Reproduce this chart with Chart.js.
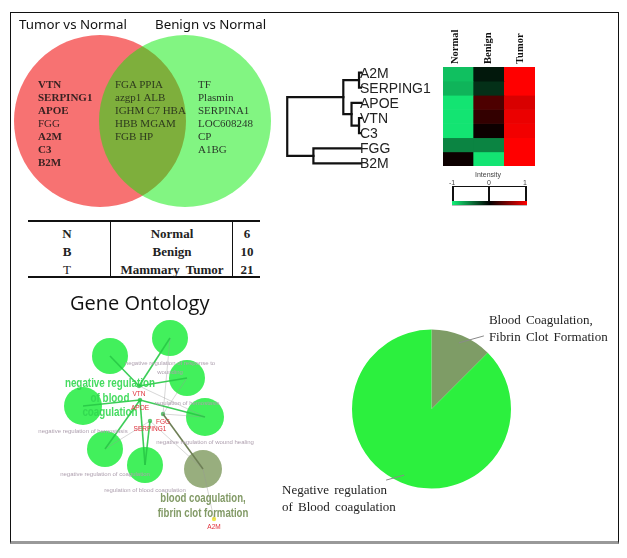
<!DOCTYPE html>
<html>
<head>
<meta charset="utf-8">
<title>Serum proteins - overview</title>
<script src="https://cdn.jsdelivr.net/npm/chart.js@4.4.1/dist/chart.umd.min.js"></script>
<style>
  body { margin: 0; background: #fff; }
  #page { position: relative; width: 627px; height: 558px; overflow: hidden;
          font-family: "Liberation Serif", "Times New Roman", serif; color: #222; }
  #page canvas { position: absolute; }
  .t { position: absolute; white-space: nowrap; line-height: 1; }
  .ln { position: absolute; background: #111; }
  #frame { position: absolute; left: 10px; top: 12px; width: 607px; height: 528px;
           border: 1px solid #111; border-bottom: 3px solid #999; }
</style>
</head>
<body>
<div id="page">
  <div id="frame"></div>
  <canvas id="vennChart" width="300" height="215" style="left:0;top:0"></canvas>
  <canvas id="treeChart" width="80" height="106" style="left:282px;top:65px"></canvas>
  <canvas id="heatChart" width="92" height="99" style="left:443px;top:67px"></canvas>
  <canvas id="goChart" width="260" height="225" style="left:20px;top:310px"></canvas>
  <canvas id="pieChart" width="340" height="235" style="left:270px;top:290px"></canvas>
</div>
<script>
// Venn: genes changed in each comparison
const tumorOnly = ['VTN', 'SERPING1', 'APOE', 'FGG', 'A2M', 'C3', 'B2M'];
const sharedGenes = ['FGA PPIA', 'azgp1 ALB', 'IGHM C7 HBA', 'HBB MGAM', 'FGB HP'];
const benignOnly = ['TF', 'Plasmin', 'SERPINA1', 'LOC608248', 'CP', 'A1BG'];

// sample groups
const groupCodes = ['N', 'B', 'T'];
const groupNames = ['Normal', 'Benign', 'Mammary Tumor'];
const groupCounts = [6, 10, 21];

// heatmap (intensity -1..1), rows in dendrogram order
const heatGenes = ['A2M', 'SERPING1', 'APOE', 'VTN', 'C3', 'FGG', 'B2M'];
const heatGroups = ['Normal', 'Benign', 'Tumor'];
const heatNormal = [-0.8, -0.75, -0.95, -0.95, -0.95, -0.55, 0.05];
const heatBenign = [-0.1, -0.2, 0.3, 0.2, 0.05, -0.55, -0.95];
const heatTumor = [1, 1, 0.85, 0.92, 0.95, 1, 1];

// dendrogram merges (leaf ids 0-6, merge k gets id 7+k), height 0..1
const mergeA = [0, 3, 2, 7, 5, 10];
const mergeB = [1, 4, 8, 9, 6, 11];
const mergeH = [0.04, 0.04, 0.14, 0.25, 0.65, 1.0];

// gene ontology network
const goTerms = [
  ['negative regulation', 'of blood', 'coagulation'],
  ['negative regulation of response to', 'wounding'],
  ['regulation of hemostasis'],
  ['negative regulation of hemostasis'],
  ['negative regulation of wound healing'],
  ['negative regulation of coagulation'],
  ['regulation of blood coagulation'],
  ['blood coagulation,', 'fibrin clot formation']
];
const goTermGroup = [0, 0, 0, 0, 0, 0, 0, 1];
const goTermX = [110, 170, 187, 83, 205, 105, 145, 203];
const goTermY = [356, 338, 378, 406, 417, 449, 465, 469];
const goTermR = [18, 18, 18, 19, 19, 18, 18, 19];
const goGenes = ['VTN', 'APOE', 'SERPING1', 'FGG', 'A2M'];
const goGeneX = [139, 140, 150, 163, 214];
const goGeneY = [386, 400, 421, 414, 519];
const edgeGene = [0, 0, 0, 1, 1, 1, 1, 2, 3, 2, 4, 3, 3, 2, 0, 3];
const edgeTerm = [0, 1, 2, 3, 4, 5, 6, 6, 7, 7, 7, 2, 4, 5, 4, 1];
const edgeKind = [0, 0, 0, 0, 0, 0, 0, 0, 1, 2, 2, 2, 2, 2, 2, 2];

// pie: GO groups
const pieNames = [['Blood Coagulation,', 'Fibrin Clot Formation'], ['Negative regulation', 'of Blood coagulation']];
const pieValues = [1, 7];

Chart.defaults.animation = false;
Chart.defaults.events = [];
Chart.defaults.plugins.legend.display = false;
Chart.defaults.plugins.tooltip.enabled = false;

const page = document.getElementById('page');

function text(str, x, y, css, align) {
  const el = document.createElement('div');
  el.className = 't';
  el.textContent = str;
  el.style.cssText += css;
  el.style.left = x + 'px';
  el.style.top = y + 'px';
  const tx = align === 'center' ? '-50%' : (align === 'right' ? '-100%' : '0');
  el.style.transform = 'translate(' + tx + ',-50%)';
  page.appendChild(el);
  return el;
}

function line(x, y, w, h, color) {
  const el = document.createElement('div');
  el.className = 'ln';
  el.style.left = x + 'px';
  el.style.top = y + 'px';
  el.style.width = w + 'px';
  el.style.height = h + 'px';
  if (color) el.style.background = color;
  page.appendChild(el);
}

// ---- Venn
new Chart(document.getElementById('vennChart'), {
  type: 'bubble',
  data: {
    datasets: [
      { data: [{ x: 185, y: 121, r: 86 }], backgroundColor: 'rgba(5,235,5,0.5)', borderWidth: 0 },
      { data: [{ x: 100, y: 121, r: 86 }], backgroundColor: '#f77272', borderWidth: 0 }
    ]
  },
  options: {
    responsive: false,
    layout: { padding: 0, autoPadding: false },
    clip: false,
    scales: {
      x: { display: false, min: 0, max: 300 },
      y: { display: false, min: 0, max: 215, reverse: true }
    }
  }
});

const sansTitle = 'font-family:"Noto Sans","Open Sans",sans-serif;font-size:13.3px;color:#111;';
text('Tumor vs Normal', 19, 25, sansTitle);
text('Benign vs Normal', 155, 25, sansTitle);
tumorOnly.forEach((g, i) => {
  const w = g === 'FGG' ? 'normal' : 'bold';
  text(g, 38, 84 + i * 13, 'font-size:11px;font-weight:' + w + ';color:#3a2222;');
});
sharedGenes.forEach((g, i) => text(g, 115, 84 + i * 13, 'font-size:11px;color:#2e3a1e;'));
benignOnly.forEach((g, i) => text(g, 198, 84 + i * 13, 'font-size:11px;color:#2a3a2a;'));

// ---- table
line(28, 220, 232, 1.5);
line(28, 276, 232, 1.5);
line(110, 220, 1, 57);
line(232, 220, 1, 57);
groupCodes.forEach((c, i) => {
  const y = 233 + i * 18;
  text(c, 67, y, 'font-size:13px;font-weight:' + (i < 2 ? 'bold' : 'normal') + ';', 'center');
  text(groupNames[i], 172, y, 'font-size:13px;font-weight:bold;word-spacing:3px;', 'center');
  text(String(groupCounts[i]), 247, y, 'font-size:13px;font-weight:bold;', 'center');
});

// ---- dendrogram
const nodeY = heatGenes.map((g, i) => i);
const nodeH = heatGenes.map(() => 0);
const treeSets = [];
mergeA.forEach((a, k) => {
  const b = mergeB[k];
  const h = mergeH[k];
  treeSets.push({
    data: [{ x: nodeH[a], y: nodeY[a] }, { x: h, y: nodeY[a] }, { x: h, y: nodeY[b] }, { x: nodeH[b], y: nodeY[b] }],
    showLine: true, borderColor: '#111', borderWidth: 2.2, pointRadius: 0, borderCapStyle: 'square'
  });
  nodeY.push((nodeY[a] + nodeY[b]) / 2);
  nodeH.push(h);
});
new Chart(document.getElementById('treeChart'), {
  type: 'scatter',
  data: { datasets: treeSets },
  options: {
    responsive: false,
    layout: { padding: 0, autoPadding: false },
    clip: false,
    scales: {
      x: { display: false, min: 0, max: 1.07, reverse: true },
      y: { display: false, min: -0.5, max: 6.5, reverse: true }
    }
  }
});
heatGenes.forEach((g, i) => {
  text(g, 360, 73 + i * 15, 'font-family:"Liberation Sans",Arial,sans-serif;font-size:14px;color:#222;');
});

// ---- heatmap
function heatColor(v) {
  if (v < 0) {
    const a = -v;
    return 'rgb(' + Math.round(20 * a) + ',' + Math.round(240 * a) + ',' + Math.round(120 * a) + ')';
  }
  return 'rgb(' + Math.round(255 * v) + ',0,0)';
}
new Chart(document.getElementById('heatChart'), {
  type: 'bar',
  data: {
    labels: heatGroups,
    datasets: heatGenes.map((g, i) => ({
      label: g,
      data: [1, 1, 1],
      backgroundColor: [heatColor(heatNormal[i]), heatColor(heatBenign[i]), heatColor(heatTumor[i])],
      borderWidth: 0,
      categoryPercentage: 1,
      barPercentage: 1
    }))
  },
  options: {
    responsive: false,
    layout: { padding: 0, autoPadding: false },
    scales: {
      x: { display: false, stacked: true },
      y: { display: false, stacked: true, min: 0, max: 7, reverse: true }
    }
  }
});
heatGroups.forEach((g, i) => {
  const el = document.createElement('div');
  el.className = 't';
  el.textContent = g;
  el.style.cssText += 'font-size:10.5px;font-weight:bold;color:#111;transform-origin:0 0;';
  el.style.left = (455 + i * 32.5 - 5) + 'px';
  el.style.top = '64px';
  el.style.transform = 'rotate(-90deg)';
  page.appendChild(el);
});

// colour key
const keyCss = 'font-family:"Liberation Sans",Arial,sans-serif;font-size:7px;color:#444;';
text('Intensity', 488, 174, keyCss, 'center');
text('-1', 452, 182, keyCss, 'center');
text('0', 489, 182, keyCss, 'center');
text('1', 525, 182, keyCss, 'center');
line(452, 186, 75, 1.2);
line(452, 186, 1.8, 16);
line(488, 186, 1.8, 16);
line(525, 186, 1.8, 16);
line(452, 205, 75, 0.8, '#bbb');
const strip = document.createElement('div');
strip.style.cssText = 'position:absolute;left:452px;top:201px;width:75px;height:4px;' +
  'background:linear-gradient(90deg,#14f078,#000 50%,#ff0000);';
page.appendChild(strip);

// ---- Gene Ontology network
text('Gene Ontology', 70, 303, 'font-family:"Open Sans","Noto Sans",sans-serif;font-size:20px;color:#111;');
const termColor = ['rgba(66,240,92,1)', '#98ae7e'];
const edgeStyle = [
  { c: 'rgba(40,200,70,0.9)', w: 1.6 },
  { c: '#6e7f56', w: 1.6 },
  { c: 'rgba(150,150,150,0.55)', w: 0.7 }
];
const goSets = [];
edgeGene.forEach((g, k) => {
  const t = edgeTerm[k];
  const s = edgeStyle[edgeKind[k]];
  goSets.push({
    type: 'line',
    data: [{ x: goGeneX[g], y: goGeneY[g] }, { x: goTermX[t], y: goTermY[t] }],
    borderColor: s.c, borderWidth: s.w, pointRadius: 0
  });
});
goSets.push({
  type: 'bubble',
  data: goGenes.map((g, i) => ({ x: goGeneX[i], y: goGeneY[i], r: 2.2 })),
  backgroundColor: goGenes.map(g => g === 'A2M' ? '#f0e84a' : '#5cc872'),
  borderWidth: 0
});
goSets.push({
  type: 'bubble',
  data: goTermX.map((x, i) => ({ x: x, y: goTermY[i], r: goTermR[i] })),
  backgroundColor: goTermGroup.map(k => termColor[k]),
  borderWidth: 0
});
new Chart(document.getElementById('goChart'), {
  type: 'bubble',
  data: { datasets: goSets },
  options: {
    responsive: false,
    layout: { padding: 0, autoPadding: false },
    clip: false,
    scales: {
      x: { display: false, min: 20, max: 280 },
      y: { display: false, min: 310, max: 535, reverse: true }
    }
  }
});
goTerms.forEach((lines, i) => {
  const cx = goTermX[i];
  lines.forEach((s, j) => {
    let el;
    if (i === 0) {
      el = text(s, cx, goTermY[i] + 27 + j * 14.5,
        'font-family:"Liberation Sans",Arial,sans-serif;font-size:12px;font-weight:bold;color:rgba(50,215,80,0.9);', 'center');
      el.style.transform += ' scaleX(0.82)';
    } else if (goTermGroup[i] === 1) {
      el = text(s, cx, goTermY[i] + 29 + j * 15,
        'font-family:"Liberation Sans",Arial,sans-serif;font-size:12px;font-weight:bold;color:#829a66;', 'center');
      el.style.transform += ' scaleX(0.8)';
    } else {
      text(s, cx, goTermY[i] + 25 + j * 9,
        'font-family:"Liberation Sans",Arial,sans-serif;font-size:6px;color:#ad9fae;', 'center');
    }
  });
});
goGenes.forEach((g, i) => {
  text(g, goGeneX[i], goGeneY[i] + 8, 'font-family:"Liberation Sans",Arial,sans-serif;font-size:6.5px;color:#e0303a;', 'center');
});

// ---- pie with callout labels
const pieCallouts = {
  id: 'pieCallouts',
  afterDatasetsDraw(chart) {
    const ctx = chart.ctx;
    const arcs = chart.getDatasetMeta(0).data;
    ctx.save();
    ctx.font = '13px "Liberation Serif", "Times New Roman", serif';
    ctx.wordSpacing = '2px';
    ctx.fillStyle = '#222';
    ctx.textBaseline = 'middle';
    ctx.strokeStyle = '#8a8a8a';
    ctx.lineWidth = 1;
    arcs.forEach((arc, i) => {
      const mid = (arc.startAngle + arc.endAngle) / 2;
      const sx = arc.x + Math.cos(mid) * arc.outerRadius * 0.9;
      const sy = arc.y + Math.sin(mid) * arc.outerRadius * 0.9;
      const right = Math.cos(mid) >= 0;
      const ex = sx + (right ? 25 : -18);
      const ey = sy + (right ? -7 : 5);
      ctx.beginPath();
      ctx.moveTo(sx, sy);
      ctx.lineTo(ex, ey);
      ctx.stroke();
      const tx = right ? ex + 5 : 12;
      const ty = right ? ey - 15 : ey + 10;
      pieNames[i].forEach((s, j) => {
        ctx.fillText(s, tx, ty + j * 17);
      });
    });
    ctx.restore();
  }
};
new Chart(document.getElementById('pieChart'), {
  type: 'pie',
  data: {
    labels: pieNames.map(n => n.join(' ')),
    datasets: [{ data: pieValues, backgroundColor: ['#7e9c66', '#2cf03e'], borderWidth: 0 }]
  },
  options: {
    responsive: false,
    layout: { padding: { left: 82, right: 99, top: 39.5, bottom: 36.5 } }
  },
  plugins: [pieCallouts]
});
</script>
</body>
</html>
